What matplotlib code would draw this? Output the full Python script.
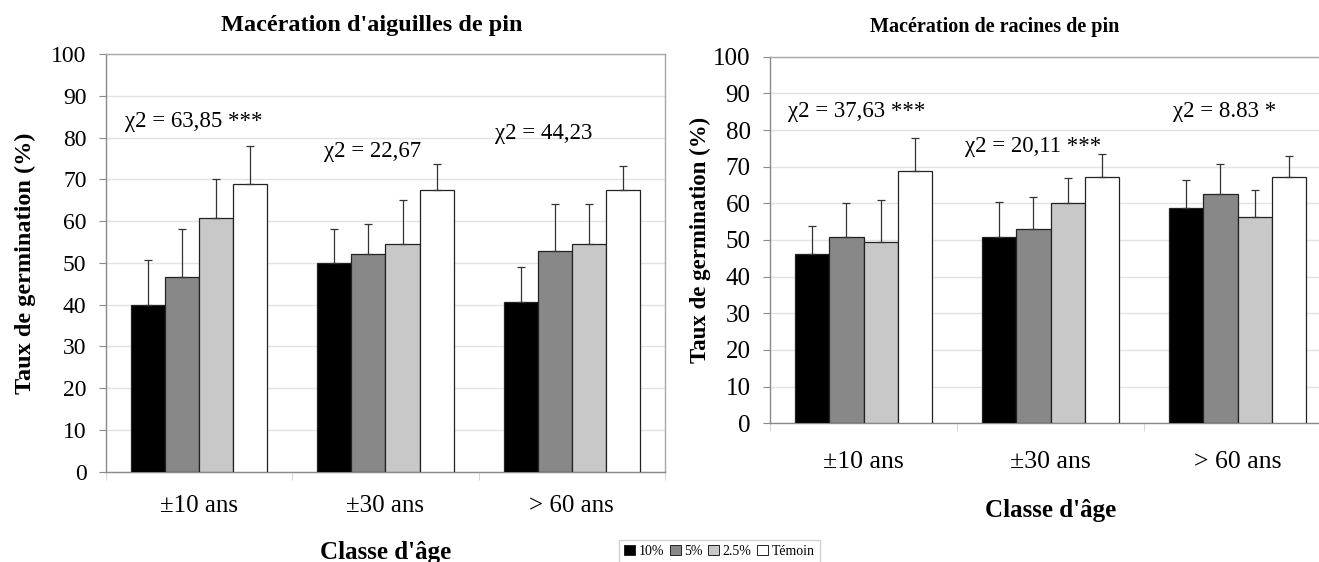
import numpy as np
import matplotlib
matplotlib.use('Agg')
import matplotlib.pyplot as plt
from matplotlib.patches import Patch

plt.rcParams['font.family'] = ['Liberation Serif', 'DejaVu Serif']

classes = ['±10 ans', '±30 ans', '> 60 ans']
doses = ['10%', '5%', '2.5%', 'Témoin']
couleurs = ['#000000', '#888888', '#c8c8c8', '#ffffff']

# Macération d'aiguilles de pin (une liste par dose, valeurs par classe d'âge)
aig_10 = [39.9, 49.9, 40.7]
aig_5 = [46.6, 52.2, 52.9]
aig_25 = [60.8, 54.6, 54.6]
aig_tem = [69.0, 67.4, 67.4]
aig_err_10 = [10.9, 8.2, 8.3]
aig_err_5 = [11.5, 7.1, 11.3]
aig_err_25 = [9.3, 10.4, 9.4]
aig_err_tem = [9.0, 6.2, 5.8]
aig_chi = ['χ2 = 63,85 ***', 'χ2 = 22,67', 'χ2 = 44,23']
aig_chi_y = [83.9, 76.7, 80.9]

# Macération de racines de pin
rac_10 = [46.1, 50.7, 58.6]
rac_5 = [50.7, 53.1, 62.5]
rac_25 = [49.5, 60.2, 56.2]
rac_tem = [68.9, 67.2, 67.2]
rac_err_10 = [7.8, 9.8, 7.7]
rac_err_5 = [9.5, 8.6, 8.3]
rac_err_25 = [11.4, 6.8, 7.5]
rac_err_tem = [8.9, 6.2, 5.7]
rac_chi = ['χ2 = 37,63 ***', 'χ2 = 20,11 ***', 'χ2 = 8.83 *']
rac_chi_y = [85.0, 75.6, 85.0]

chi_x_aig = [-0.40, 0.672, 1.586]
chi_x_rac = [-0.404, 0.543, 1.653]

W, H = 1319, 562
fig = plt.figure(figsize=(W / 100, H / 100), dpi=100)


def px(x0, y0, x1, y1):
    # convertit une boite en pixels (haut-gauche) en coordonnees figure
    return [x0 / W, 1 - y1 / H, (x1 - x0) / W, (y1 - y0) / H]


def panel(ax, series, errs, chi, chi_x, chi_y, fs_tick, fs_x, pad_x):
    x = np.arange(len(classes))
    w = 0.183
    for i, (vals, err) in enumerate(zip(series, errs)):
        pos = x + (i - 1.5) * w
        ax.bar(pos, vals, w, color=couleurs[i], edgecolor='#222222',
               linewidth=0.9, zorder=3)
        ax.errorbar(pos, vals, yerr=[np.zeros(len(err)), err], fmt='none',
                    ecolor='#333333', elinewidth=0.9, capsize=3, capthick=0.9,
                    zorder=4)
    ax.set_xlim(-0.5, 2.5)
    ax.set_ylim(0, 100)
    ax.set_yticks(range(0, 101, 10))
    ax.grid(axis='y', color='#e3e3e3', linewidth=1, zorder=0)
    ax.set_axisbelow(True)
    for s in ax.spines.values():
        s.set_color('#a8a8a8')
        s.set_linewidth(1)
    ax.spines['left'].set_color('#8a8a8a')
    ax.spines['bottom'].set_color('#8a8a8a')
    ax.set_xticks(x)
    ax.set_xticklabels(classes, fontsize=fs_x)
    ax.set_xticks([-0.5, 0.5, 1.5, 2.5], minor=True)
    ax.tick_params(axis='x', which='major', length=0, pad=pad_x)
    ax.tick_params(axis='x', which='minor', length=6, color='#d0d0d0')
    ax.tick_params(axis='y', labelsize=fs_tick, length=5, color='#8a8a8a', pad=9)
    for t, tx, ty in zip(chi, chi_x, chi_y):
        ax.text(tx, ty, t, fontsize=16.5, ha='left', va='center', zorder=5)


ax1 = fig.add_axes(px(106, 54.3, 665, 471.5))
panel(ax1, [aig_10, aig_5, aig_25, aig_tem],
      [aig_err_10, aig_err_5, aig_err_25, aig_err_tem],
      aig_chi, chi_x_aig, aig_chi_y, 17, 18, 17)
ax1.set_ylabel('Taux de germination (%)', fontsize=17.5, fontweight='bold', va='center')
ax1.yaxis.set_label_coords((25 - 106) / 559, 0.5)
ax1.set_xlabel("Classe d'âge", fontsize=18, fontweight='bold', va='center')
ax1.xaxis.set_label_coords(0.5, -(553 - 471.5) / 417.2)

ax2 = fig.add_axes(px(770, 56.7, 1331, 423.3))
panel(ax2, [rac_10, rac_5, rac_25, rac_tem],
      [rac_err_10, rac_err_5, rac_err_25, rac_err_tem],
      rac_chi, chi_x_rac, rac_chi_y, 18, 18.5, 20)
ax2.set_ylabel('Taux de germination (%)', fontsize=16.5, fontweight='bold', va='center')
ax2.yaxis.set_label_coords((700 - 770) / 561, 0.5)
ax2.set_xlabel("Classe d'âge", fontsize=18, fontweight='bold', va='center')
ax2.xaxis.set_label_coords(0.5, -(510 - 423.3) / 366.6)

fig.text(372 / W, 1 - 25 / H, "Macération d'aiguilles de pin", fontsize=17.5,
         fontweight='bold', ha='center', va='center')
fig.text(995 / W, 1 - 27 / H, "Macération de racines de pin", fontsize=14.5,
         fontweight='bold', ha='center', va='center')

handles = [Patch(facecolor=c, edgecolor='#222222', linewidth=0.7) for c in couleurs]
fig.legend(handles, doses, loc='upper left', bbox_to_anchor=(619 / W, 1 - 540 / H),
           ncol=4, fontsize=10, frameon=True, fancybox=False, edgecolor='#c8c8c8',
           handlelength=0.8, handleheight=0.8, handletextpad=0.25, columnspacing=0.4,
           borderpad=0.35, borderaxespad=0)

fig.savefig('out.png', dpi=100)
